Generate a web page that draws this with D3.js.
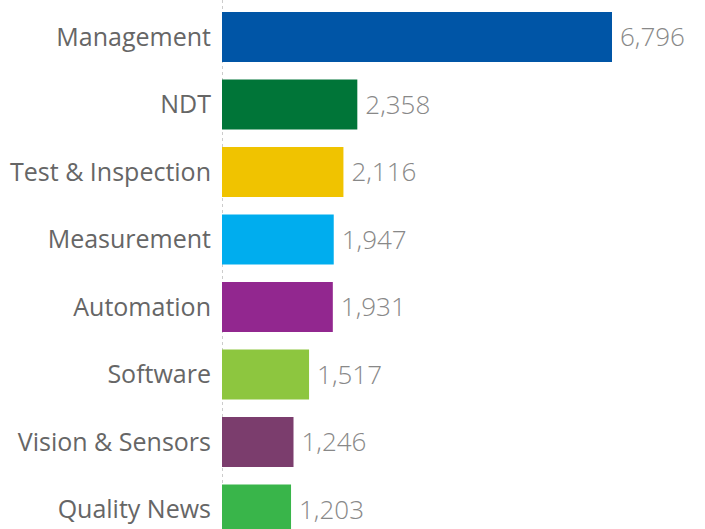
<!DOCTYPE html>
<html>
<head>
    <meta charset="utf-8">
    <title>Articles by Category</title>
    <script src="https://cdn.jsdelivr.net/npm/d3@7"></script>
    <style>
        body { margin: 0; background: #fff; }
        .cat-label { font-family: "Open Sans", sans-serif; font-size: 25px; fill: #666; }
        .val-label { font-family: "Open Sans", sans-serif; font-weight: 300; font-size: 26px; fill: #888; }
    </style>
</head>
<body>
<div id="chart"></div>
<script>
    // data
    var categories = ["Management", "NDT", "Test & Inspection", "Measurement",
                      "Automation", "Software", "Vision & Sensors", "Quality News"];
    var counts = [6796, 2358, 2116, 1947, 1931, 1517, 1246, 1203];
    var barColors = ["#0055a6", "#007538", "#f0c300", "#00adee",
                     "#92278f", "#8dc63f", "#7b3d6d", "#39b54a"];

    var svgWidth = 705, svgHeight = 529;
    var axisX = 222;

    var svg = d3.select("#chart").append("svg")
        .attr("width", svgWidth)
        .attr("height", svgHeight);

    var x = d3.scaleLinear()
        .domain([0, 6796])
        .range([axisX, 612]);

    // step 67.5, bar 50
    var y = d3.scaleBand()
        .domain(categories)
        .range([12, 534.5])
        .paddingInner(17.5 / 67.5)
        .paddingOuter(0);

    var rows = categories.map((c, i) => ({cat: c, val: counts[i], color: barColors[i]}));

    // dashed zero line
    svg.append("line")
        .attr("x1", axisX + 0.5).attr("x2", axisX + 0.5)
        .attr("y1", 0).attr("y2", svgHeight)
        .style("stroke", "#ccc")
        .style("stroke-width", 1)
        .style("stroke-dasharray", "3,3");

    svg.selectAll(".bar")
        .data(rows)
        .enter().append("rect")
            .classed("bar", true)
            .attr("x", x(0))
            .attr("y", d => y(d.cat))
            .attr("width", d => x(d.val) - x(0))
            .attr("height", y.bandwidth())
            .style("fill", d => d.color);

    svg.selectAll(".cat-label")
        .data(rows)
        .enter().append("text")
            .classed("cat-label", true)
            .attr("x", 211)
            .attr("y", d => y(d.cat) + y.bandwidth() / 2)
            .attr("dy", "0.35em")
            .style("text-anchor", "end")
            .text(d => d.cat);

    var fmt = d3.format(",");
    svg.selectAll(".val-label")
        .data(rows)
        .enter().append("text")
            .classed("val-label", true)
            .attr("x", d => x(d.val) + 8)
            .attr("y", d => y(d.cat) + y.bandwidth() / 2)
            .attr("dy", "0.35em")
            .text(d => fmt(d.val));
</script>
</body>
</html>
